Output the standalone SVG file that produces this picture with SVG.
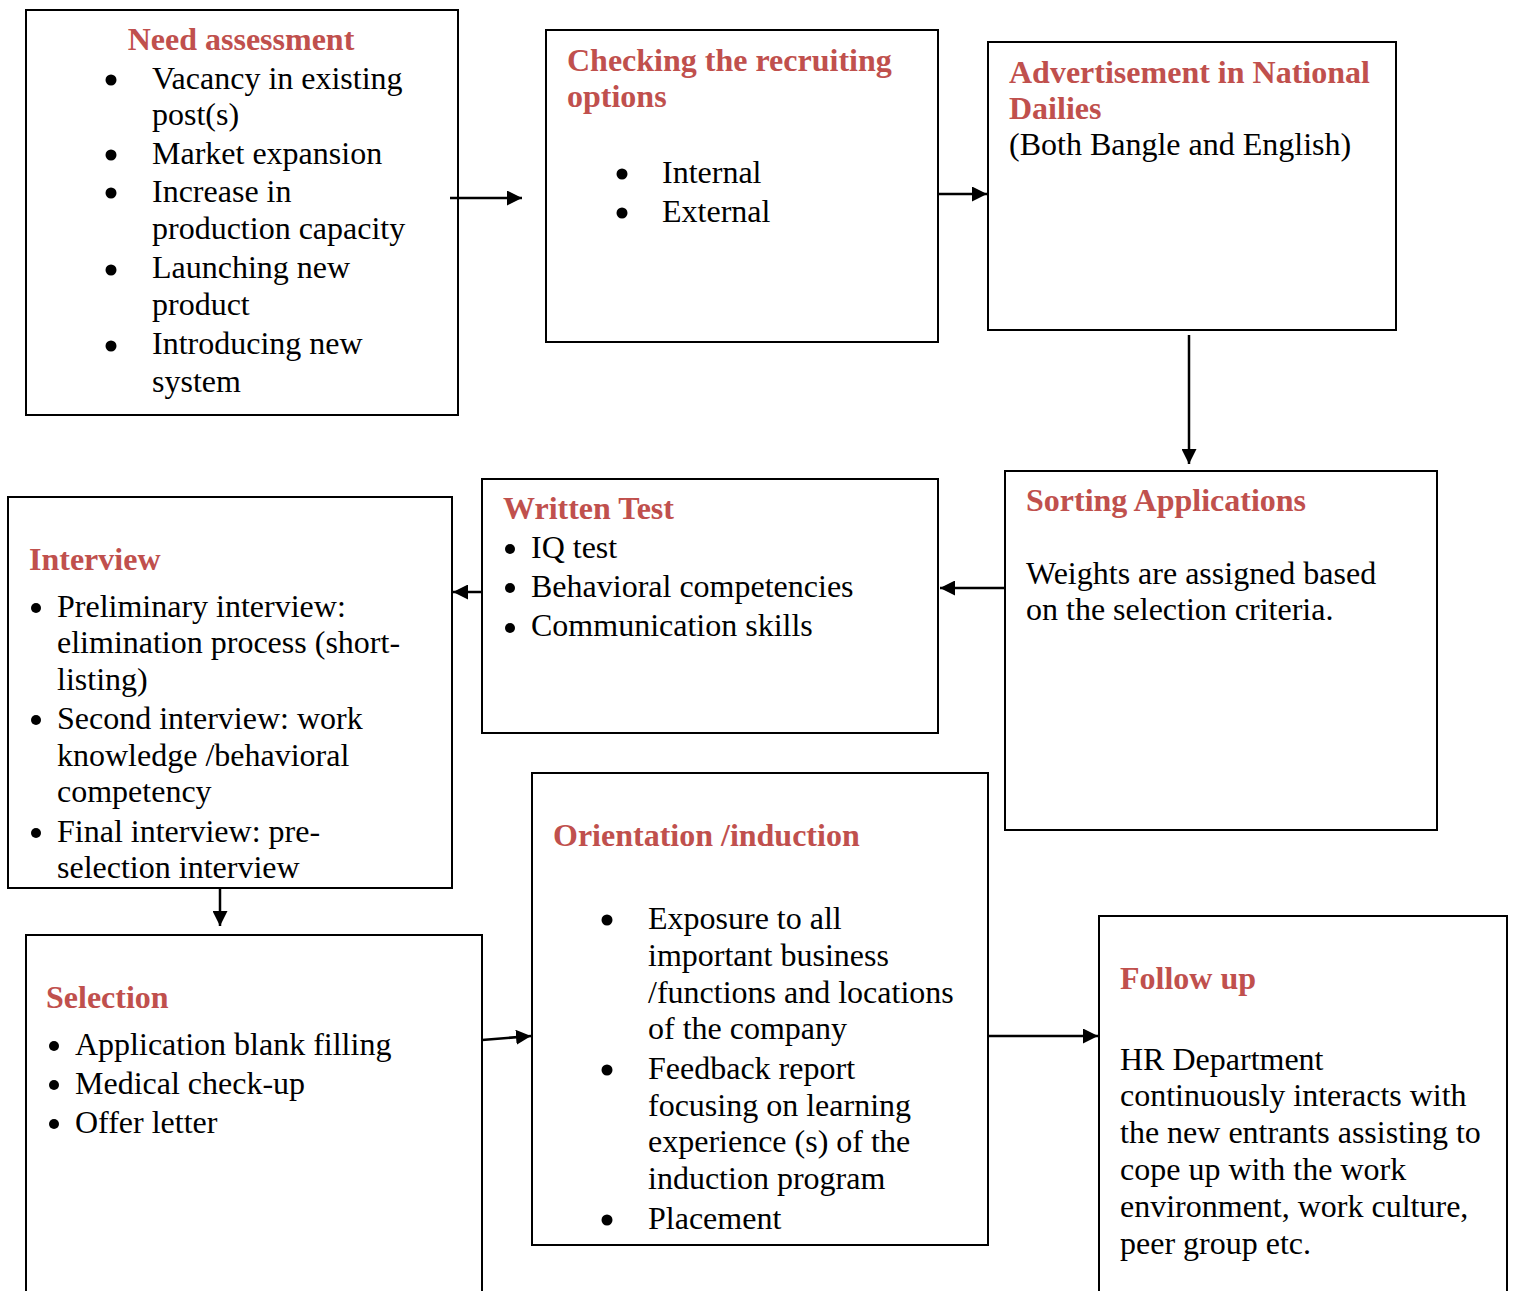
<svg xmlns="http://www.w3.org/2000/svg" width="1513" height="1291" viewBox="0 0 1513 1291">
<style>
.box{fill:#fff;stroke:#000;stroke-width:2}
.t{font-family:"Liberation Serif","Times New Roman",serif;font-size:32px;fill:#000}
.h{font-family:"Liberation Serif","Times New Roman",serif;font-size:32px;font-weight:bold;fill:#C0504D}
.c{stroke:#000;stroke-width:2.5;fill:none}
.b{fill:#000}
</style>
<defs>
<marker id="ah" viewBox="0 0 10 10" refX="10" refY="5" markerWidth="6" markerHeight="6" markerUnits="strokeWidth" orient="auto">
<path d="M0,0 L10,5 L0,10 z" fill="#000"/>
</marker>
</defs>
<rect width="1513" height="1291" fill="#fff"/>
<g id="need">
<rect class="box" x="26" y="10" width="432" height="405"/>
<text class="h" x="241" y="50" text-anchor="middle">Need assessment</text>
<circle class="b" cx="111" cy="80" r="5.5"/><circle class="b" cx="111" cy="155" r="5.5"/><circle class="b" cx="111" cy="193" r="5.5"/><circle class="b" cx="111" cy="270" r="5.5"/><circle class="b" cx="111" cy="346" r="5.5"/>
<text class="t" x="152" y="89">Vacancy in existing</text>
<text class="t" x="152" y="125">post(s)</text>
<text class="t" x="152" y="164">Market expansion</text>
<text class="t" x="152" y="202">Increase in</text>
<text class="t" x="152" y="239">production capacity</text>
<text class="t" x="152" y="278">Launching new</text>
<text class="t" x="152" y="315">product</text>
<text class="t" x="152" y="354">Introducing new</text>
<text class="t" x="152" y="392">system</text>
</g>
<g id="checking">
<rect class="box" x="546" y="30" width="392" height="312"/>
<text class="h" x="567" y="71">Checking the recruiting</text>
<text class="h" x="567" y="107">options</text>
<circle class="b" cx="622" cy="174" r="5.5"/><circle class="b" cx="622" cy="213" r="5.5"/>
<text class="t" x="662" y="183">Internal</text>
<text class="t" x="662" y="222">External</text>
</g>
<g id="advert">
<rect class="box" x="988" y="42" width="408" height="288"/>
<text class="h" x="1009" y="83">Advertisement in National</text>
<text class="h" x="1009" y="119">Dailies</text>
<text class="t" x="1009" y="155">(Both Bangle and English)</text>
</g>
<g id="sorting">
<rect class="box" x="1005" y="471" width="432" height="359"/>
<text class="h" x="1026" y="511">Sorting Applications</text>
<text class="t" x="1026" y="584">Weights are assigned based</text>
<text class="t" x="1026" y="620">on the selection criteria.</text>
</g>
<g id="written">
<rect class="box" x="482" y="479" width="456" height="254"/>
<text class="h" x="503" y="519">Written Test</text>
<circle class="b" cx="510" cy="549" r="5"/><circle class="b" cx="510" cy="588" r="5"/><circle class="b" cx="510" cy="628" r="5"/>
<text class="t" x="531" y="558">IQ test</text>
<text class="t" x="531" y="597">Behavioral competencies</text>
<text class="t" x="531" y="636">Communication skills</text>
</g>
<g id="interview">
<rect class="box" x="8" y="497" width="444" height="391"/>
<text class="h" x="29" y="570">Interview</text>
<circle class="b" cx="36" cy="608" r="5"/><circle class="b" cx="36" cy="720" r="5"/><circle class="b" cx="36" cy="833" r="5"/>
<text class="t" x="57" y="617">Preliminary interview:</text>
<text class="t" x="57" y="653">elimination process (short-</text>
<text class="t" x="57" y="690">listing)</text>
<text class="t" x="57" y="729">Second interview: work</text>
<text class="t" x="57" y="766">knowledge /behavioral</text>
<text class="t" x="57" y="802">competency</text>
<text class="t" x="57" y="842">Final interview: pre-</text>
<text class="t" x="57" y="878">selection interview</text>
</g>
<g id="selection">
<rect class="box" x="26" y="935" width="456" height="370"/>
<text class="h" x="46" y="1008">Selection</text>
<circle class="b" cx="54" cy="1046" r="5"/><circle class="b" cx="54" cy="1085" r="5"/><circle class="b" cx="54" cy="1124" r="5"/>
<text class="t" x="75" y="1055">Application blank filling</text>
<text class="t" x="75" y="1094">Medical check-up</text>
<text class="t" x="75" y="1133">Offer letter</text>
</g>
<g id="orientation">
<rect class="box" x="532" y="773" width="456" height="472"/>
<text class="h" x="553" y="846">Orientation /induction</text>
<circle class="b" cx="607" cy="920" r="5.5"/><circle class="b" cx="607" cy="1070" r="5.5"/><circle class="b" cx="607" cy="1220" r="5.5"/>
<text class="t" x="648" y="929">Exposure to all</text>
<text class="t" x="648" y="966">important business</text>
<text class="t" x="648" y="1003">/functions and locations</text>
<text class="t" x="648" y="1039">of the company</text>
<text class="t" x="648" y="1079">Feedback report</text>
<text class="t" x="648" y="1116">focusing on learning</text>
<text class="t" x="648" y="1152">experience (s) of the</text>
<text class="t" x="648" y="1189">induction program</text>
<text class="t" x="648" y="1229">Placement</text>
</g>
<g id="followup">
<rect class="box" x="1099" y="916" width="408" height="390"/>
<text class="h" x="1120" y="989">Follow up</text>
<text class="t" x="1120" y="1070">HR Department</text>
<text class="t" x="1120" y="1106">continuously interacts with</text>
<text class="t" x="1120" y="1143">the new entrants assisting to</text>
<text class="t" x="1120" y="1180">cope up with the work</text>
<text class="t" x="1120" y="1217">environment, work culture,</text>
<text class="t" x="1120" y="1254">peer group etc.</text>
</g>
<g id="connectors">
<line class="c" x1="450" y1="198" x2="522" y2="198" marker-end="url(#ah)"/>
<line class="c" x1="938" y1="194" x2="987" y2="194" marker-end="url(#ah)"/>
<line class="c" x1="1189" y1="335" x2="1189" y2="464" marker-end="url(#ah)"/>
<line class="c" x1="1005" y1="588" x2="940" y2="588" marker-end="url(#ah)"/>
<line class="c" x1="482" y1="592" x2="453" y2="592" marker-end="url(#ah)"/>
<line class="c" x1="220" y1="888" x2="220" y2="926" marker-end="url(#ah)"/>
<line class="c" x1="482" y1="1040" x2="531" y2="1036" marker-end="url(#ah)"/>
<line class="c" x1="988" y1="1036" x2="1098" y2="1036" marker-end="url(#ah)"/>
</g>
</svg>
